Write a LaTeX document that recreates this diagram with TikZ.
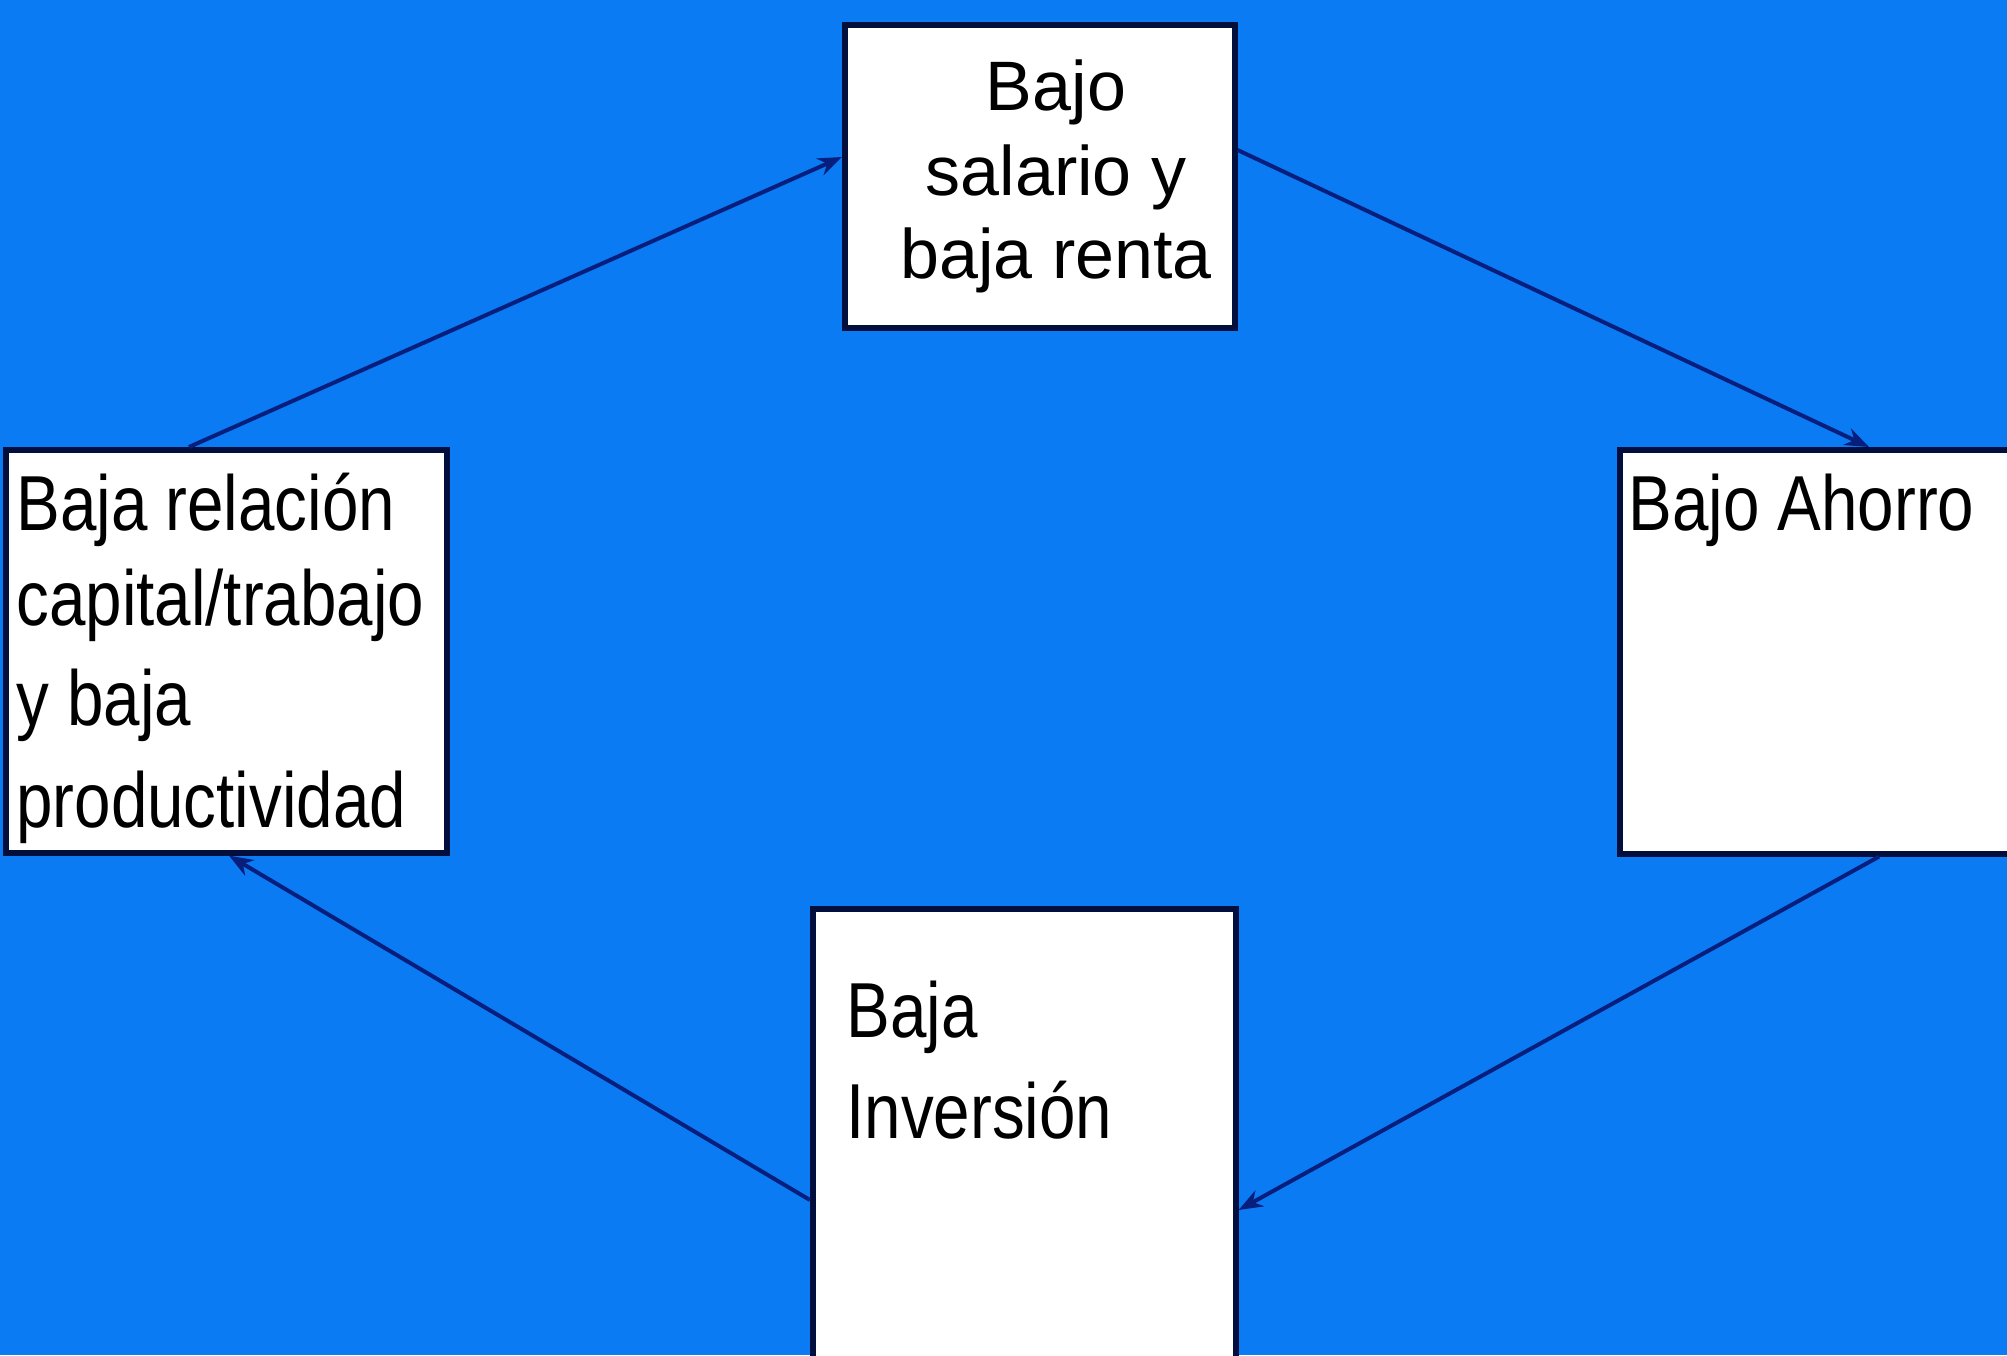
\documentclass[tikz,border=0pt]{standalone}
\usepackage{fontspec}
\usetikzlibrary{arrows.meta}
\newfontfamily\topfont{Liberation Sans}
\newfontfamily\pixfont[FakeStretch=0.84]{Liberation Sans}
\definecolor{bgblue}{RGB}{10,123,243}
\definecolor{boxnavy}{RGB}{2,14,60}
\definecolor{arrnavy}{RGB}{8,30,125}
\tikzset{
  box/.style={draw=boxnavy, line width=2.8pt, fill=white, inner sep=0pt, anchor=north west},
  arr/.style={draw=arrnavy, line width=2pt, -{Stealth[open,length=12pt,width=9pt,fill=bgblue]}},
  toptxt/.style={inner sep=0pt, anchor=base, font=\topfont\fontsize{35pt}{42pt}\selectfont},
  pixtxt/.style={inner sep=0pt, anchor=base west, font=\pixfont\fontsize{39pt}{50pt}\selectfont}
}
\begin{document}
\begin{tikzpicture}[x=0.5pt,y=-0.5pt]
\useasboundingbox (0,0) rectangle (2007,1355);
\clip (0,0) rectangle (2007,1355);
\fill[bgblue] (0,0) rectangle (2007,1355);
% boxes
\node[box, minimum width=195pt, minimum height=151.5pt] (tbox) at (842,22) {};
\node[box, minimum width=220.5pt, minimum height=201.5pt] (lbox) at (3,447) {};
\node[box, minimum width=216.5pt, minimum height=202pt] (rbox) at (1617,447) {};
\node[box, minimum width=211.5pt, minimum height=247pt] (bbox) at (810,906) {};
% texts
\node[toptxt] (t1) at (1056,110) {Bajo};
\node[toptxt] (t2) at (1056,195) {salario y};
\node[toptxt] (t3) at (1056,278) {baja renta};
\node[pixtxt] (l1) at (16,530) {Baja relación};
\node[pixtxt] (l2) at (16,625) {capital/trabajo};
\node[pixtxt] (l3) at (16,725) {y baja};
\node[pixtxt] (l4) at (16,827) {productividad};
\node[pixtxt] (r1) at (1628,530) {Bajo Ahorro};
\node[pixtxt] (b1) at (846,1037) {Baja};
\node[pixtxt] (b2) at (846,1138) {Inversión};
% connectors
\draw[arr] ([xshift=93pt]lbox.north west) -- ([yshift=-67.5pt]tbox.north west);
\draw[arr] ([yshift=-64pt]tbox.north east) -- ([xshift=126pt]rbox.north west);
\draw[arr] ([xshift=131pt]rbox.south west) -- ([yshift=-152pt]bbox.north east);
\draw[arr] ([yshift=-147pt]bbox.north west) -- ([xshift=113pt]lbox.south west);
\end{tikzpicture}
\end{document}
